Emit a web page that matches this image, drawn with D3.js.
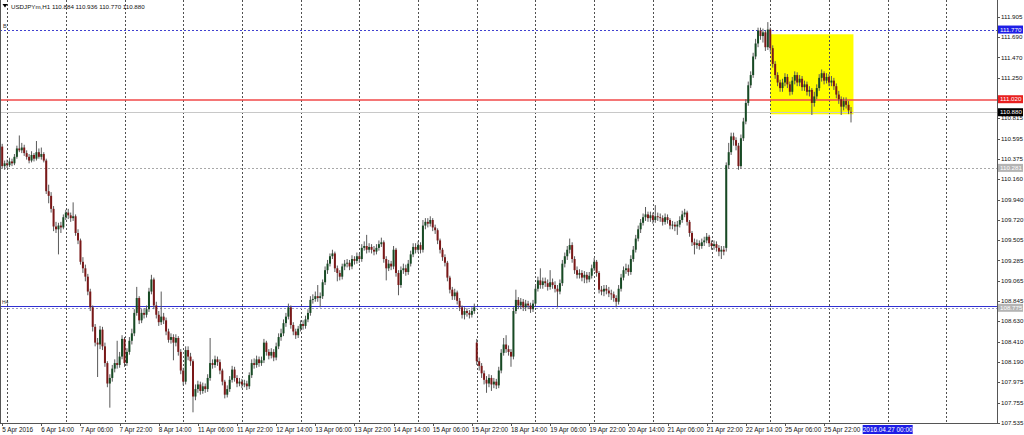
<!DOCTYPE html>
<html><head><meta charset="utf-8">
<script src="https://cdn.jsdelivr.net/npm/d3@7"></script>
<style>html,body{margin:0;padding:0;background:#fff;overflow:hidden}svg{display:block}</style>
</head><body><svg id="c" width="1024" height="435"></svg>
<script>
// ---------- DATA (USDJPYm, H1, first bar = 5 Apr 2016 22:00) ----------
const symbolTitle = "USDJPYm,H1";
const lastBarText = "110.884 110.936 110.770 110.880";
const opens = [
110.51,110.30,110.33,110.31,110.35,110.33,110.40,110.49,110.47,110.50,
110.44,110.40,110.36,110.42,110.38,110.45,110.40,110.43,110.36,110.03,
109.98,109.84,109.65,109.62,109.66,109.64,109.75,109.80,109.77,109.74,
109.76,109.58,109.50,109.27,109.20,109.11,108.95,108.78,108.57,108.40,
108.38,108.54,108.36,108.18,107.96,108.02,108.12,108.18,108.16,108.25,
108.44,108.18,108.30,108.42,108.50,108.72,108.88,108.64,108.72,108.70,
108.76,108.95,109.08,108.80,108.70,108.62,108.68,108.64,108.52,108.43,
108.46,108.40,108.45,108.30,108.10,107.98,108.32,108.25,108.20,107.82,
107.90,107.95,107.88,107.93,107.90,108.02,108.18,108.16,108.22,108.19,
108.10,107.98,107.84,107.90,108.00,108.11,108.02,107.96,107.98,107.95,
107.96,107.93,108.05,108.18,108.16,108.22,108.18,108.21,108.40,108.30,
108.26,108.30,108.24,108.36,108.46,108.50,108.61,108.68,108.78,108.59,
108.52,108.48,108.55,108.60,108.58,108.65,108.72,108.86,108.87,108.90,
108.88,108.90,109.05,109.18,109.25,109.33,109.36,109.20,109.15,109.11,
109.22,109.25,109.26,109.22,109.30,109.28,109.33,109.30,109.42,109.44,
109.40,109.43,109.40,109.38,109.42,109.46,109.48,109.30,109.20,109.25,
109.22,109.40,109.15,109.02,109.18,109.20,109.16,109.25,109.35,109.43,
109.40,109.45,109.40,109.66,109.70,109.68,109.72,109.64,109.61,109.50,
109.40,109.32,109.26,109.10,108.97,108.90,108.94,108.85,108.78,108.70,
108.74,108.72,108.70,108.74,108.40,108.20,108.15,108.07,108.00,107.96,
108.02,107.95,107.98,107.94,108.10,108.29,108.38,108.33,108.30,108.25,
108.74,108.86,108.80,108.84,108.78,108.82,108.80,108.76,108.82,108.98,
109.07,109.02,109.06,109.04,109.00,109.05,109.02,108.98,108.95,109.04,
109.25,109.33,109.40,109.45,109.30,109.18,109.13,109.15,109.10,109.13,
109.08,109.12,109.20,109.27,109.15,108.97,108.95,108.98,108.96,108.93,
108.92,108.88,108.84,108.98,109.10,109.18,109.20,109.16,109.30,109.40,
109.52,109.62,109.69,109.75,109.78,109.74,109.77,109.72,109.76,109.75,
109.74,109.70,109.75,109.72,109.66,109.67,109.65,109.67,109.72,109.78,
109.80,109.70,109.58,109.48,109.45,109.47,109.44,109.48,109.50,109.54,
109.47,109.44,109.46,109.42,109.38,109.40,109.42,110.31,110.45,110.62,
110.58,110.52,110.30,110.60,110.78,110.98,111.17,111.28,111.48,111.62,
111.76,111.70,111.74,111.58,111.77,111.57,111.40,111.28,111.20,111.14,
111.20,111.26,111.18,111.10,111.22,111.28,111.20,111.24,111.15,111.18,
111.10,111.12,110.98,111.05,111.14,111.25,111.30,111.22,111.26,111.20,
111.22,111.16,111.07,111.02,110.94,111.00,110.96,110.884];
const highs = [
110.54,110.36,110.37,110.39,110.38,110.43,110.52,110.63,110.55,110.53,
110.47,110.43,110.46,110.44,110.57,110.49,110.50,110.45,110.38,110.10,
110.02,109.87,109.70,109.69,109.70,109.78,109.83,109.84,109.80,109.91,
109.78,109.62,109.52,109.32,109.24,109.14,108.98,108.80,108.60,108.45,
108.58,108.57,108.40,108.20,108.06,108.16,108.22,108.42,108.30,108.48,
108.46,108.34,108.46,108.55,108.76,109.00,108.90,108.76,108.77,108.80,
108.99,109.13,109.10,108.84,108.74,108.95,108.72,108.67,108.55,108.50,
108.49,108.49,108.47,108.33,108.13,108.36,108.36,108.29,108.22,107.95,
107.99,107.98,107.97,107.96,108.06,108.45,108.22,108.26,108.25,108.22,
108.12,108.00,107.94,108.04,108.15,108.14,108.05,108.02,108.01,108.00,
107.99,108.08,108.22,108.23,108.26,108.25,108.25,108.44,108.42,108.33,
108.34,108.33,108.40,108.50,108.55,108.65,108.72,108.82,108.80,108.62,
108.55,108.58,108.64,108.64,108.69,108.76,108.90,108.92,108.95,109.02,
108.94,109.08,109.22,109.29,109.36,109.40,109.38,109.23,109.18,109.25,
109.29,109.30,109.29,109.34,109.33,109.37,109.36,109.46,109.49,109.56,
109.47,109.46,109.44,109.46,109.50,109.53,109.50,109.33,109.29,109.28,
109.44,109.42,109.18,109.22,109.25,109.24,109.29,109.39,109.47,109.47,
109.49,109.48,109.72,109.74,109.74,109.76,109.74,109.67,109.63,109.52,
109.42,109.35,109.28,109.12,109.00,108.98,108.96,108.88,108.80,108.78,
108.77,108.75,108.78,108.82,108.44,108.24,108.18,108.10,108.04,108.06,
108.05,108.02,108.01,108.14,108.33,108.45,108.48,108.37,108.33,108.78,
108.97,108.89,108.88,108.87,108.86,108.85,108.83,108.86,109.02,109.11,
109.20,109.10,109.10,109.08,109.18,109.09,109.06,109.02,109.08,109.29,
109.37,109.44,109.52,109.48,109.33,109.22,109.19,109.18,109.17,109.16,
109.16,109.24,109.31,109.29,109.17,109.01,109.02,109.02,109.00,108.97,
108.95,108.91,109.02,109.14,109.22,109.25,109.24,109.34,109.44,109.56,
109.66,109.73,109.79,109.86,109.81,109.81,109.80,109.88,109.80,109.79,
109.77,109.79,109.78,109.74,109.71,109.70,109.71,109.76,109.82,109.84,
109.82,109.72,109.60,109.52,109.51,109.50,109.52,109.54,109.58,109.56,
109.50,109.50,109.49,109.45,109.44,109.44,110.34,110.55,110.66,110.66,
110.61,110.55,110.64,110.82,111.02,111.21,111.32,111.52,111.67,111.79,
111.79,111.78,111.76,111.85,111.79,111.60,111.43,111.31,111.23,111.24,
111.30,111.29,111.21,111.26,111.32,111.31,111.28,111.27,111.22,111.21,
111.16,111.14,111.10,111.18,111.29,111.34,111.32,111.30,111.29,111.27,
111.25,111.19,111.11,111.05,111.04,111.04,111.00,110.936];
const lows = [
110.27,110.26,110.28,110.29,110.30,110.31,110.38,110.45,110.44,110.41,
110.37,110.33,110.34,110.35,110.36,110.38,110.37,110.34,110.00,109.90,
109.80,109.60,109.58,109.35,109.58,109.62,109.72,109.73,109.70,109.71,
109.55,109.46,109.24,109.15,109.06,108.91,108.74,108.52,108.36,108.03,
108.33,108.32,108.14,107.92,107.70,107.98,108.08,108.12,108.13,108.22,
108.14,108.15,108.27,108.38,108.47,108.69,108.60,108.61,108.66,108.67,
108.73,108.92,108.76,108.66,108.58,108.59,108.60,108.48,108.40,108.39,
108.21,108.36,108.26,108.06,107.94,107.95,108.21,108.15,107.65,107.78,
107.86,107.84,107.85,107.86,107.87,107.99,108.12,108.13,108.15,108.06,
107.94,107.80,107.81,107.87,107.97,107.98,107.92,107.93,107.91,107.92,
107.89,107.90,108.02,108.12,108.13,108.14,108.15,108.18,108.26,108.22,
108.23,108.20,108.21,108.33,108.42,108.47,108.57,108.65,108.55,108.48,
108.44,108.45,108.52,108.54,108.55,108.62,108.69,108.82,108.84,108.84,
108.78,108.87,109.02,109.14,109.22,109.30,109.16,109.06,109.07,109.08,
109.18,109.21,109.18,109.19,109.24,109.25,109.26,109.27,109.39,109.36,
109.37,109.36,109.34,109.35,109.39,109.43,109.26,109.07,109.17,109.18,
109.19,109.11,108.91,108.99,109.14,109.12,109.13,109.22,109.32,109.36,
109.37,109.36,109.37,109.62,109.64,109.65,109.60,109.57,109.46,109.36,
109.28,109.22,109.06,108.93,108.86,108.86,108.81,108.74,108.66,108.65,
108.68,108.66,108.67,108.71,108.16,108.10,108.02,107.95,107.86,107.92,
107.88,107.91,107.90,107.91,108.07,108.26,108.29,108.26,108.14,108.22,
108.71,108.76,108.76,108.74,108.74,108.76,108.72,108.73,108.79,108.95,
108.98,108.98,109.00,108.96,108.97,108.98,108.94,108.78,108.92,109.01,
109.21,109.29,109.36,109.26,109.14,109.09,109.09,109.06,109.04,109.04,
109.05,109.09,109.17,109.11,108.93,108.91,108.90,108.92,108.89,108.86,
108.84,108.78,108.81,108.95,109.07,109.14,109.12,109.13,109.27,109.37,
109.49,109.58,109.66,109.71,109.70,109.70,109.68,109.69,109.71,109.70,
109.66,109.67,109.68,109.62,109.62,109.60,109.56,109.64,109.69,109.75,
109.66,109.54,109.44,109.35,109.41,109.40,109.41,109.44,109.47,109.43,
109.40,109.40,109.38,109.33,109.30,109.34,109.38,110.27,110.42,110.52,
110.47,110.26,110.27,110.57,110.75,110.95,111.14,111.25,111.45,111.58,
111.66,111.63,111.54,111.55,111.53,111.36,111.24,111.16,111.10,111.10,
111.16,111.14,111.06,111.07,111.18,111.16,111.16,111.11,111.11,111.06,
111.05,110.85,110.94,111.02,111.11,111.21,111.18,111.19,111.16,111.16,
111.12,111.03,110.97,110.85,110.90,110.92,110.86,110.770];
const closes = [
110.30,110.33,110.31,110.35,110.33,110.40,110.49,110.47,110.50,110.44,
110.40,110.36,110.42,110.38,110.45,110.40,110.43,110.36,110.03,109.98,
109.84,109.65,109.62,109.66,109.64,109.75,109.80,109.77,109.74,109.76,
109.58,109.50,109.27,109.20,109.11,108.95,108.78,108.57,108.40,108.38,
108.54,108.36,108.18,107.96,108.02,108.12,108.18,108.16,108.25,108.44,
108.18,108.30,108.42,108.50,108.72,108.88,108.64,108.72,108.70,108.76,
108.95,109.08,108.80,108.70,108.62,108.68,108.64,108.52,108.43,108.46,
108.40,108.45,108.30,108.10,107.98,108.32,108.25,108.20,107.82,107.90,
107.95,107.88,107.93,107.90,108.02,108.18,108.16,108.22,108.19,108.10,
107.98,107.84,107.90,108.00,108.11,108.02,107.96,107.98,107.95,107.96,
107.93,108.05,108.18,108.16,108.22,108.18,108.21,108.40,108.30,108.26,
108.30,108.24,108.36,108.46,108.50,108.61,108.68,108.78,108.59,108.52,
108.48,108.55,108.60,108.58,108.65,108.72,108.86,108.87,108.90,108.88,
108.90,109.05,109.18,109.25,109.33,109.36,109.20,109.15,109.11,109.22,
109.25,109.26,109.22,109.30,109.28,109.33,109.30,109.42,109.44,109.40,
109.43,109.40,109.38,109.42,109.46,109.48,109.30,109.20,109.25,109.22,
109.40,109.15,109.02,109.18,109.20,109.16,109.25,109.35,109.43,109.40,
109.45,109.40,109.66,109.70,109.68,109.72,109.64,109.61,109.50,109.40,
109.32,109.26,109.10,108.97,108.90,108.94,108.85,108.78,108.70,108.74,
108.72,108.70,108.74,108.78,108.20,108.15,108.07,108.00,107.96,108.02,
107.95,107.98,107.94,108.10,108.29,108.38,108.33,108.30,108.25,108.74,
108.86,108.80,108.84,108.78,108.82,108.80,108.76,108.82,108.98,109.07,
109.02,109.06,109.04,109.00,109.05,109.02,108.98,108.95,109.04,109.25,
109.33,109.40,109.45,109.30,109.18,109.13,109.15,109.10,109.13,109.08,
109.12,109.20,109.27,109.15,108.97,108.95,108.98,108.96,108.93,108.92,
108.88,108.84,108.98,109.10,109.18,109.20,109.16,109.30,109.40,109.52,
109.62,109.69,109.75,109.78,109.74,109.77,109.72,109.76,109.75,109.74,
109.70,109.75,109.72,109.66,109.67,109.65,109.67,109.72,109.78,109.80,
109.70,109.58,109.48,109.45,109.47,109.44,109.48,109.50,109.54,109.47,
109.44,109.46,109.42,109.38,109.40,109.38,110.31,110.45,110.62,110.58,
110.52,110.30,110.60,110.78,110.98,111.17,111.28,111.48,111.62,111.76,
111.70,111.74,111.58,111.77,111.57,111.40,111.28,111.20,111.14,111.20,
111.26,111.18,111.10,111.22,111.28,111.20,111.24,111.15,111.18,111.10,
111.12,110.98,111.05,111.14,111.25,111.30,111.22,111.26,111.20,111.22,
111.16,111.07,111.02,110.94,111.00,110.96,110.90,110.880];

const priceTicks = [111.905,111.690,111.470,111.250,110.815,110.595,110.375,110.160,109.940,109.720,109.505,109.285,109.065,108.845,108.630,108.410,108.190,107.975,107.755,107.535];
const timeLabelBars = [0,16,32,48,64,80,96,112,128,144,160,176,192,208,224,240,256,272,288,304,320,336];
const timeLabels = ["5 Apr 2016","6 Apr 14:00","7 Apr 06:00","7 Apr 22:00","8 Apr 14:00","11 Apr 06:00","11 Apr 22:00","12 Apr 14:00","13 Apr 06:00","13 Apr 22:00","14 Apr 14:00","15 Apr 06:00","15 Apr 22:00","18 Apr 14:00","19 Apr 06:00","19 Apr 22:00","20 Apr 14:00","21 Apr 06:00","21 Apr 22:00","22 Apr 14:00","25 Apr 06:00","25 Apr 22:00"];
const dayStartBars = [2,26,50,74,98,122,146,170,194,218,242,266,290,314,338,362,386];
// horizontal objects
const levelTop = 111.770;      // blue dotted
const levelRed = 111.020;      // red solid
const levelBid = 110.880;      // bid line
const levelGray = 110.281;     // gray dotted
const levelBlue = 108.795;     // blue solid
const levelBlueDot = 108.775;  // gray dotted under blue
const boxBars = [314, 348];
const boxPrices = [111.719, 110.858];
const vlineLabel = "2016.04.27 00:00";
const vlineBar = 362;

// ---------- DRAW ----------
const svg = d3.select("#c");
const W = 1024, H = 435, axisX = 997, axisY = 423;
const FONT = "'Liberation Sans', Arial, sans-serif";
const x = d3.scaleLinear().domain([0, 347]).range([2.2, 851]);
const y = d3.scaleLinear().domain([107.535, 111.905]).range([423, 17]);
const px = v => Math.round(v) + 0.5;

svg.append("rect").attr("width", W).attr("height", H).attr("fill", "#fff");

const plot = svg.append("g");
plot.append("clipPath").attr("id","pc").append("rect").attr("x",0).attr("y",0).attr("width",axisX).attr("height",axisY);
const g = plot.append("g").attr("clip-path","url(#pc)");

// yellow rectangle (background)
g.append("rect")
  .attr("x", x(boxBars[0])).attr("y", y(boxPrices[0]))
  .attr("width", x(boxBars[1]) - x(boxBars[0]))
  .attr("height", y(boxPrices[1]) - y(boxPrices[0]))
  .attr("fill", "#ffff00");

// vertical grid (day separators)
g.selectAll(".vg").data(dayStartBars).enter().append("line")
  .attr("x1", d => px(x(d))).attr("x2", d => px(x(d)))
  .attr("y1", 0).attr("y2", axisY)
  .attr("stroke", "#505050").attr("stroke-width", 1).attr("stroke-dasharray", "2,2");

// horizontal level lines
function hline(p, color, dash, w, off) {
  const yy = px(y(p)) + (off || 0);
  g.append("line").attr("x1", 0).attr("x2", axisX)
    .attr("y1", yy).attr("y2", yy)
    .style("stroke", color).style("stroke-width", w || 1)
    .style("stroke-dasharray", dash || "none");
}
hline(levelTop, "#4040d0", "2,2");
hline(levelGray, "#a8a8a8", "2,2");
hline(levelBlueDot, "#9a9ac8", "2,2");
hline(levelBlue, "#3030d0", null);
hline(levelBid, "#c8c8c8", null);
hline(levelRed, "#f04848", null, 1.4, 0.5);

// candles
const idx = d3.range(closes.length);
const bw = 2;
g.selectAll(".wick").data(idx).enter().append("line")
  .attr("x1", i => x(i)).attr("x2", i => x(i))
  .attr("y1", i => y(highs[i])).attr("y2", i => y(lows[i]))
  .attr("stroke", "#5a5a5a").attr("stroke-width", 1);
g.selectAll(".body").data(idx).enter().append("rect")
  .attr("x", i => x(i) - bw / 2)
  .attr("y", i => y(Math.max(opens[i], closes[i])))
  .attr("width", bw)
  .attr("height", i => Math.max(0.8, Math.abs(y(opens[i]) - y(closes[i]))))
  .attr("fill", i => closes[i] >= opens[i] ? "#174a24" : "#7a1818");

// frame / axes
svg.append("line").attr("x1", px(axisX)).attr("x2", px(axisX)).attr("y1", 0).attr("y2", axisY + 0.5)
  .attr("stroke", "#555").attr("stroke-width", 1);
svg.append("line").attr("x1", 0).attr("x2", px(axisX)).attr("y1", px(axisY)).attr("y2", px(axisY))
  .attr("stroke", "#555").attr("stroke-width", 1);
svg.append("line").attr("x1", 0.5).attr("x2", 0.5).attr("y1", 0).attr("y2", axisY)
  .attr("stroke", "#555").attr("stroke-width", 1);

// price axis
const yAxis = svg.append("g");
priceTicks.forEach(p => {
  const yy = y(p);
  yAxis.append("line").attr("x1", axisX).attr("x2", axisX + 3).attr("y1", px(yy)).attr("y2", px(yy)).attr("stroke", "#555");
  yAxis.append("text").attr("x", 1001).attr("y", yy + 2.2).text(p.toFixed(3))
    .attr("font-family", FONT).attr("font-size", 6.2).attr("fill", "#111");
});
function priceTag(p, bg, fg) {
  const yy = y(p);
  yAxis.append("rect").attr("x", axisX + 1).attr("y", yy - 4).attr("width", 25).attr("height", 8).attr("fill", bg);
  yAxis.append("text").attr("x", 1000).attr("y", yy + 2.2).text(p.toFixed(3))
    .attr("font-family", FONT).attr("font-size", 6.2).attr("fill", fg);
}
priceTag(levelTop, "#1e1ee6", "#fff");
priceTag(levelRed, "#e82020", "#fff");
priceTag(levelBid, "#000", "#fff");
priceTag(levelGray, "#b4b4b4", "#fff");
priceTag(levelBlueDot, "#b4b4b4", "#fff");

// time axis
const xAxis = svg.append("g");
timeLabelBars.forEach((b, k) => {
  const xx = x(b);
  xAxis.append("line").attr("x1", px(xx)).attr("x2", px(xx)).attr("y1", axisY).attr("y2", axisY + 3).attr("stroke", "#555");
  xAxis.append("text").attr("x", xx).attr("y", 432).text(timeLabels[k])
    .attr("font-family", FONT).attr("font-size", 6.4).attr("fill", "#111");
});
const vx = x(vlineBar);
xAxis.append("rect").attr("x", vx - 25).attr("y", 425).attr("width", 50).attr("height", 9).attr("fill", "#1e1ee6");
xAxis.append("text").attr("x", vx).attr("y", 432).attr("text-anchor", "middle").text(vlineLabel)
  .attr("font-family", FONT).attr("font-size", 6.4).attr("fill", "#fff");

// title
svg.append("path").attr("d", "M2.5,4 L7.5,4 L5,7.5 Z").attr("fill", "#000");
svg.append("text").attr("x", 11).attr("y", 8.5).text(symbolTitle + "  " + lastBarText)
  .attr("font-family", FONT).attr("font-size", 6.2).attr("fill", "#111");
svg.append("text").attr("x", 3).attr("y", 28).text("B")
  .attr("font-family", FONT).attr("font-size", 5.5).attr("fill", "#333");
svg.append("text").attr("x", 2).attr("y", y(levelBlue) - 1.5).text("H4")
  .attr("font-family", FONT).attr("font-size", 5).attr("fill", "#333");
</script></body></html>
